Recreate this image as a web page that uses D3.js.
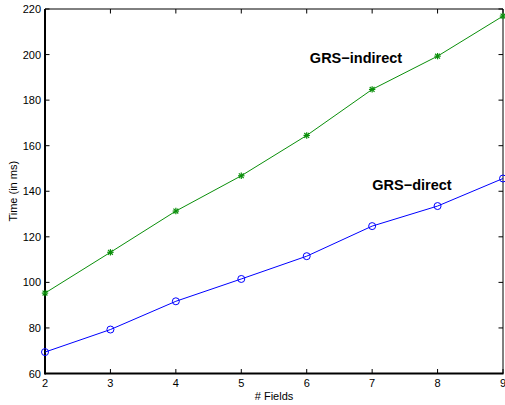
<!DOCTYPE html>
<html>
<head>
<meta charset="utf-8">
<script src="https://cdn.jsdelivr.net/npm/d3@7"></script>
<style>
  body { margin: 0; background: #fff; }
  text { font-family: "Liberation Sans", Arial, sans-serif; }
</style>
</head>
<body>
<div id="chart"></div>
<script>
// data
var fields = [2, 3, 4, 5, 6, 7, 8, 9];
var grsIndirect = [95.3, 113.2, 131.3, 146.8, 164.5, 184.7, 199.3, 216.9];
var grsDirect = [69.4, 79.3, 91.7, 101.5, 111.5, 124.7, 133.5, 145.6];
var xTicks = [2, 3, 4, 5, 6, 7, 8, 9];
var yTicks = [60, 80, 100, 120, 140, 160, 180, 200, 220];

var width_svg = 505, height_svg = 405;
var margin = {left: 45, right: 2, top: 9, bottom: 31.5};

var svg = d3.select('#chart')
    .append('svg')
    .attr('width', width_svg)
    .attr('height', height_svg);

var x = d3.scaleLinear().domain([2, 9]).range([margin.left, width_svg - margin.right]);
var y = d3.scaleLinear().domain([60, 220]).range([height_svg - margin.bottom, margin.top]);

var x0 = x.range()[0], x1 = x.range()[1];
var y0 = y.range()[0], y1 = y.range()[1];

// ticks pointing inward, on all four sides
var tickLen = 4.5;
var axes = svg.append('g').attr('stroke', '#000').attr('stroke-width', 1);
xTicks.forEach(function (t) {
    axes.append('line').attr('x1', x(t)).attr('x2', x(t)).attr('y1', y0).attr('y2', y0 - tickLen);
    axes.append('line').attr('x1', x(t)).attr('x2', x(t)).attr('y1', y1).attr('y2', y1 + tickLen);
});
yTicks.forEach(function (t) {
    axes.append('line').attr('x1', x0).attr('x2', x0 + tickLen).attr('y1', y(t)).attr('y2', y(t));
    axes.append('line').attr('x1', x1).attr('x2', x1 - tickLen).attr('y1', y(t)).attr('y2', y(t));
});

// box
axes.append('line').attr('x1', x0).attr('x2', x1).attr('y1', y1).attr('y2', y1);
axes.append('line').attr('x1', x1).attr('x2', x1).attr('y1', y0).attr('y2', y1);
axes.append('line').attr('x1', x0).attr('x2', x0).attr('y1', y0 + 1).attr('y2', y1).attr('stroke-width', 2);
axes.append('line').attr('x1', x0).attr('x2', x1 + 0.5).attr('y1', y0).attr('y2', y0).attr('stroke-width', 2);

// tick labels
svg.append('g').selectAll('text')
    .data(xTicks)
    .join('text')
    .attr('x', d => x(d))
    .attr('y', y0 + 13.5)
    .attr('text-anchor', 'middle')
    .style('font-size', '11px')
    .text(d => d);

svg.append('g').selectAll('text')
    .data(yTicks)
    .join('text')
    .attr('x', x0 - 4)
    .attr('y', d => y(d) + 4)
    .attr('text-anchor', 'end')
    .style('font-size', '11px')
    .text(d => d);

// axis titles
svg.append('text')
    .attr('x', (x0 + x1) / 2)
    .attr('y', 399.5)
    .attr('text-anchor', 'middle')
    .style('font-size', '11px')
    .text('# Fields');

svg.append('text')
    .attr('transform', 'translate(17,' + ((y0 + y1) / 2) + ') rotate(-90)')
    .attr('text-anchor', 'middle')
    .style('font-size', '11px')
    .text('Time (in ms)');

var line = d3.line().x(d => x(d[0])).y(d => y(d[1]));

// GRS-indirect (green, asterisks)
var green = '#0a8f0a';
var indirect = fields.map((f, i) => [f, grsIndirect[i]]);
svg.append('path')
    .datum(indirect)
    .attr('d', line)
    .attr('fill', 'none')
    .attr('stroke', green)
    .attr('stroke-width', 1);

var star = svg.append('g').attr('stroke', green).attr('stroke-width', 1.2);
indirect.forEach(function (d) {
    var cx = x(d[0]), cy = y(d[1]), r = 3.2;
    star.append('line').attr('x1', cx - r).attr('x2', cx + r).attr('y1', cy).attr('y2', cy);
    star.append('line').attr('x1', cx).attr('x2', cx).attr('y1', cy - r).attr('y2', cy + r);
    star.append('line').attr('x1', cx - r * 0.75).attr('x2', cx + r * 0.75).attr('y1', cy - r * 0.75).attr('y2', cy + r * 0.75);
    star.append('line').attr('x1', cx - r * 0.75).attr('x2', cx + r * 0.75).attr('y1', cy + r * 0.75).attr('y2', cy - r * 0.75);
});

// GRS-direct (blue, circles)
var direct = fields.map((f, i) => [f, grsDirect[i]]);
svg.append('path')
    .datum(direct)
    .attr('d', line)
    .attr('fill', 'none')
    .attr('stroke', '#0000ff')
    .attr('stroke-width', 1);

svg.append('g').selectAll('circle')
    .data(direct)
    .join('circle')
    .attr('cx', d => x(d[0]))
    .attr('cy', d => y(d[1]))
    .attr('r', 3.5)
    .attr('fill', 'none')
    .attr('stroke', '#0000ff')
    .attr('stroke-width', 1);

// series labels
svg.append('text')
    .attr('x', 356)
    .attr('y', 63)
    .attr('text-anchor', 'middle')
    .style('font-size', '14.5px')
    .style('font-weight', 'bold')
    .text('GRS\u2212indirect');

svg.append('text')
    .attr('x', 412)
    .attr('y', 190)
    .attr('text-anchor', 'middle')
    .style('font-size', '14.5px')
    .style('font-weight', 'bold')
    .text('GRS\u2212direct');
</script>
</body>
</html>
